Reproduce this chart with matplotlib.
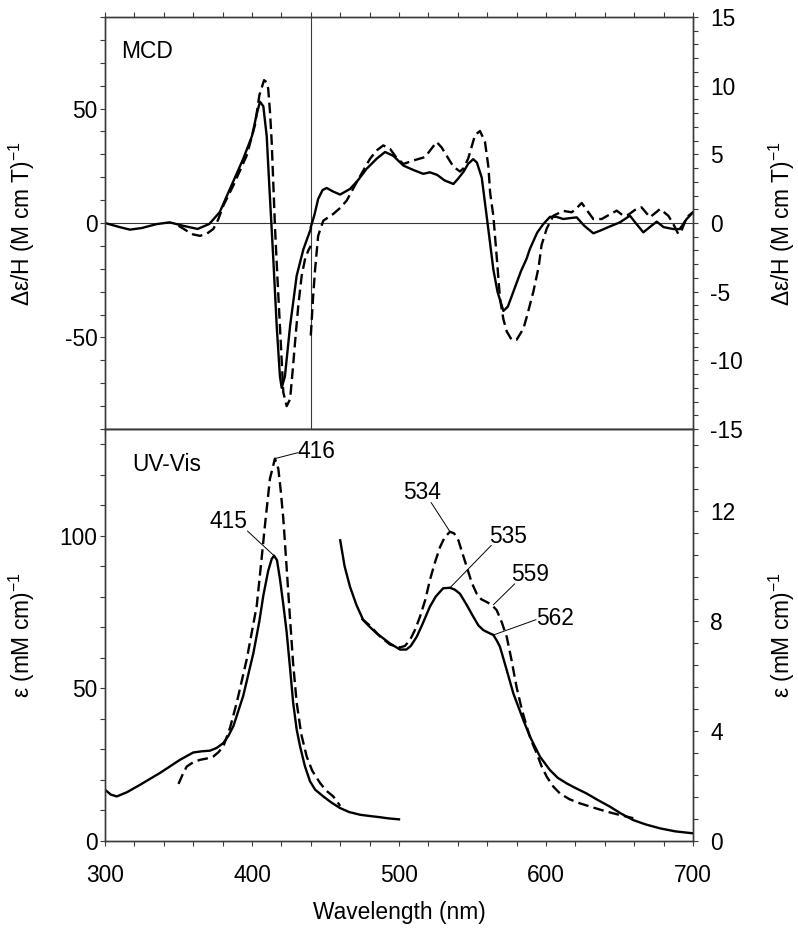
import numpy as np
import matplotlib
matplotlib.use("Agg")
import matplotlib.pyplot as plt
from matplotlib.ticker import MultipleLocator

plt.rcParams["font.family"] = ["Liberation Sans", "DejaVu Sans"]
plt.rcParams["mathtext.fontset"] = "custom"
plt.rcParams["mathtext.rm"] = "Liberation Sans"
plt.rcParams["mathtext.it"] = "Liberation Sans:italic"
plt.rcParams["axes.unicode_minus"] = False
plt.rcParams["font.size"] = 16.4

# ---- MCD, solid trace: 300-440 nm on left axis, 440-700 nm on right axis
mcd_solid_nm_a = [300, 310, 317, 325, 335, 344, 353, 363, 371, 378, 387, 394, 400, 403,
                  405.4, 407.7, 410, 412, 414.5, 416.8, 419, 420.2, 422.4, 425.9, 430.4,
                  435, 440]
mcd_solid_a = [0, -1.8, -2.9, -2.2, -0.5, 0.3, -1.2, -2.6, -0.4, 4.7, 17.8, 28, 38, 47,
               53, 51, 38, 13.5, -15.8, -45, -67, -72, -67, -45, -23, -11.4, -2.5]
mcd_solid_nm_b = [440, 442.5, 445, 448, 450.8, 455, 459.9, 466.7, 472, 478, 485, 490.5,
                  496, 503, 510, 516.5, 521, 526, 531, 537, 540, 543.7, 547, 550.5, 553,
                  556.3, 559.6, 562, 564.2, 567, 571, 574, 577.8, 583, 586.8, 589, 594,
                  598, 602.7, 607, 611.8, 616, 620.9, 626, 632.2, 637, 643.5, 650.3,
                  657.1, 661, 666.2, 670, 675.3, 680, 686.6, 691, 695.7, 700]
mcd_solid_b = [-0.3, 0.6, 1.75, 2.4, 2.55, 2.3, 2.07, 2.48, 3.1, 3.95, 4.7, 5.17,
               4.9, 4.18, 3.85, 3.58, 3.69, 3.5, 3.1, 2.84, 3.2, 3.7, 4.3, 4.65, 4.4,
               3.3, 0.53, -1.5, -3.4, -5.0, -6.4, -6.1, -5.0, -3.5, -2.6, -1.9, -0.7,
               -0.1, 0.45, 0.45, 0.29, 0.35, 0.41, -0.2, -0.75, -0.55, -0.25, 0.05,
               0.53, 0.0, -0.68, -0.35, 0.1, -0.3, -0.44, -0.44, 0.29, 0.78]

# ---- MCD, dashed trace
mcd_dash_nm_a = [350, 355.6, 360, 364.6, 369, 373.7, 377, 380.5, 387.3, 396.4, 402, 405,
                 408.2, 410, 411, 412.3, 413.4, 415.6, 417.3, 419, 421.3, 423.6, 425.9,
                 427.6, 429.3, 431.5, 433.8, 436, 438.3, 440]
mcd_dash_a = [-1.2, -3.4, -5.0, -5.6, -4.8, -2.6, 1.5, 7.6, 16.4, 29.5, 42.7, 55.8,
              62.4, 61.5, 58.8, 48, 35.4, -1.2, -24, -45, -74, -80, -77,
              -65, -52, -36, -23, -16, -12, -10]
mcd_dash_nm_b = [440, 441.5, 442.9, 445, 448.5, 455.3, 460, 464.4, 471.2, 480.3, 485,
                 489.3, 493.9, 498, 503, 509.7, 517.7, 522, 525.6, 529, 532.4, 537,
                 541.5, 544, 547.1, 551.7, 555.1, 558.5, 560.8, 562, 564.2, 566.5,
                 568.7, 571, 573.3, 576.6, 580, 584.6, 587, 591.4, 595, 597, 600.5,
                 605, 611.8, 617.5, 621, 624.3, 628, 632.2, 637.9, 643, 648.1, 652.6,
                 656, 660.5, 665, 670.7, 674, 677.6, 683.2, 686.6, 690, 692, 695.7, 700]
mcd_dash_b = [-8.2, -5.5, -3.4, -0.93, 0.17, 0.66, 1.1, 1.63, 2.97, 4.68, 5.3,
              5.65, 5.4, 4.8, 4.3, 4.55, 4.8, 5.4, 5.9, 5.5, 4.9, 4.1,
              3.75, 4.0, 4.7, 6.4, 6.7, 5.9, 4.1, 2.2, 0.5, -2.5,
              -5.5, -7.0, -7.9, -8.5, -8.5, -7.7, -6.8, -5.0, -3.2, -1.6, -0.4,
              0.53, 0.88, 0.78, 1.1, 1.46, 0.9, 0.29, 0.29, 0.6, 0.9, 0.53,
              0.6, 0.95, 1.14, 0.42, 0.7, 1.02, 0.53, -0.07, -0.8, -0.6, 0.42, 0.78]

# ---- UV-Vis, solid trace: 300-500 nm on left axis, 460-700 nm on right axis
uv_solid_nm_a = [300, 304, 308, 315, 323.8, 337.4, 351, 360, 366, 371.4, 376, 380.5,
                 384, 387.3, 394, 401, 405, 407.7, 411, 413.4, 415, 417, 419, 421.3,
                 423.6, 426, 428, 430.4, 432.7, 436, 439.5, 443, 448.5, 454, 459.9,
                 466, 473.5, 480, 487, 493, 500]
uv_solid_a = [16.8, 15.2, 14.6, 16, 18.4, 22.3, 26.6, 29, 29.4, 29.6, 30.5, 32.1,
              34.5, 37.6, 47.5, 61.7, 72, 80.4, 88.5, 92.4, 93.5, 92, 85.9, 77.5,
              68.3, 56, 45.3, 36.5, 31, 24.5, 19.5, 16.8, 14.6, 12.6, 10.8,
              9.5, 8.6, 8.2, 7.8, 7.4, 7.1]
uv_solid_nm_b = [460, 463, 466.7, 471, 475.7, 480, 484.8, 490, 493.9, 500.7, 505, 508,
                 512, 516, 521, 525, 530, 534.7, 538, 541.5, 546, 550.5, 554, 557.3,
                 561, 564.2, 566.5, 568.7, 573.3, 577.8, 584.6, 589.1, 595.9, 602.7,
                 608, 614, 620, 627.6, 635, 643.5, 651, 659.4, 668, 677.6, 688, 700]
uv_solid_b = [10.95, 10.0, 9.25, 8.6, 8.04, 7.8, 7.56, 7.35, 7.19, 6.97, 6.97, 7.1,
              7.43, 7.9, 8.53, 8.9, 9.2, 9.22, 9.15, 9.0, 8.6, 8.17, 7.85, 7.68,
              7.58, 7.5, 7.3, 7.07, 6.22, 5.37, 4.4, 3.8, 3.07, 2.58,
              2.3, 2.1, 1.93, 1.73, 1.5, 1.25, 1.0, 0.76, 0.6, 0.46, 0.35, 0.28]

# ---- UV-Vis, dashed trace
uv_dash_nm_a = [350, 353, 355.6, 360, 364.6, 369, 373.7, 377, 380.5, 385, 389.6, 396.4,
                403.2, 406, 408.8, 412.2, 415.6, 417.9, 419.5, 421.3, 423.5, 425.9,
                428, 430.4, 433.5, 437.2, 441, 446.3, 450.5, 455.3, 460]
uv_dash_a = [18.7, 22, 24.4, 25.8, 26.6, 27, 27.7, 29, 31, 37, 45.3, 59.5,
             77, 90, 103.4, 118.7, 125.3, 122, 115, 105.6, 90, 72.7,
             58, 45.3, 35, 27.7, 23, 19, 16.5, 14.6, 11.5]
uv_dash_nm_b = [474.6, 480, 487, 494, 500.7, 504, 507.5, 511, 514.3, 518, 521, 524.5,
                527.9, 531, 534.7, 537.5, 540.4, 543, 546.1, 549.5, 552.9, 556, 559.7,
                563, 566.5, 570, 573.3, 576.5, 580, 583.5, 586.9, 590, 593.7, 597,
                600.5, 605, 609.5, 616, 623.1, 632, 641.3, 650, 659.4]
uv_dash_b = [8.1, 7.85, 7.45, 7.15, 7.05, 7.1, 7.32, 7.7, 8.17, 8.8, 9.5, 10.15,
             10.7, 11.05, 11.26, 11.2, 10.95, 10.5, 9.98, 9.4, 9.0, 8.8, 8.7,
             8.6, 8.4, 7.95, 7.43, 6.6, 5.6, 4.8, 4.16, 3.65, 3.19, 2.72,
             2.34, 1.98, 1.73, 1.52, 1.37, 1.22, 1.07, 0.95, 0.83]

# band labels: (text, axis side, peak nm, peak value, label nm, label value, line anchor)
peak_labels = [
    ("416", "left", 415.6, 125.3, 444.0, 127.6, (0.0, 0.45)),
    ("415", "left", 415.0, 93.5, 384.0, 104.6, (1.0, 0.1)),
    ("534", "right", 534.7, 11.26, 515.4, 12.7, (0.75, 0.05)),
    ("535", "right", 534.7, 9.22, 574.4, 11.1, (0.05, 0.1)),
    ("559", "right", 564.2, 8.6, 589.1, 9.7, (0.1, 0.1)),
    ("562", "right", 564.2, 7.5, 606.1, 8.1, (0.0, 0.45)),
]

INK = "black"
SPINE = "#3a3a3a"
LW = 1.7
DASH = (0, (4.5, 2.2))

fig = plt.figure(figsize=(7.98, 9.31), dpi=100)
left, width = 105 / 798, 588 / 798
ax_top = fig.add_axes([left, 1 - 429 / 931, width, 412 / 931])
ax_bot = fig.add_axes([left, 1 - 841 / 931, width, 412 / 931], sharex=ax_top)
ax_top_r = ax_top.twinx()
ax_bot_r = ax_bot.twinx()

# MCD panel
ax_top.plot(mcd_solid_nm_a, mcd_solid_a, color=INK, lw=LW)
ax_top.plot(mcd_dash_nm_a, mcd_dash_a, color=INK, lw=LW, linestyle=DASH)
ax_top_r.plot(mcd_solid_nm_b, mcd_solid_b, color=INK, lw=LW)
ax_top_r.plot(mcd_dash_nm_b, mcd_dash_b, color=INK, lw=LW, linestyle=DASH)
ax_top.axhline(0, color=SPINE, lw=0.8, zorder=0)
ax_top.axvline(440, color=SPINE, lw=0.8, zorder=0)
ax_top.set_ylim(-90, 90)
ax_top_r.set_ylim(-15, 15)
ax_top.yaxis.set_major_locator(MultipleLocator(50))
ax_top.yaxis.set_minor_locator(MultipleLocator(10))
ax_top_r.yaxis.set_major_locator(MultipleLocator(5))
ax_top_r.yaxis.set_minor_locator(MultipleLocator(1))
ax_top.text(0.027, 0.917, "MCD", transform=ax_top.transAxes, ha="left", va="center")

# UV-Vis panel
ax_bot.plot(uv_solid_nm_a, uv_solid_a, color=INK, lw=LW)
ax_bot.plot(uv_dash_nm_a, uv_dash_a, color=INK, lw=LW, linestyle=DASH)
ax_bot_r.plot(uv_solid_nm_b, uv_solid_b, color=INK, lw=LW)
ax_bot_r.plot(uv_dash_nm_b, uv_dash_b, color=INK, lw=LW, linestyle=DASH)
ax_bot.set_ylim(0, 135)
ax_bot_r.set_ylim(0, 15)
ax_bot.yaxis.set_major_locator(MultipleLocator(50))
ax_bot.yaxis.set_minor_locator(MultipleLocator(10))
ax_bot_r.yaxis.set_major_locator(MultipleLocator(4))
ax_bot_r.yaxis.set_minor_locator(MultipleLocator(0.8))
ax_bot.text(0.046, 0.913, "UV-Vis", transform=ax_bot.transAxes, ha="left", va="center")

for txt, side, px, py, tx, ty, anchor in peak_labels:
    ax = ax_bot if side == "left" else ax_bot_r
    ax.annotate(txt, xy=(px, py), xytext=(tx, ty), ha="center", va="center",
                arrowprops=dict(arrowstyle="-", lw=0.7, color=INK, relpos=anchor,
                                shrinkA=0, shrinkB=0, patchA=None))

ax_top.set_xlim(300, 700)
ax_top.xaxis.set_major_locator(MultipleLocator(100))
ax_top.xaxis.set_minor_locator(MultipleLocator(20))

for ax in (ax_top, ax_bot, ax_top_r, ax_bot_r):
    for sp in ax.spines.values():
        sp.set_color(SPINE)
        sp.set_linewidth(1.0)
    ax.tick_params(which="both", direction="out", length=3.4, width=0.8, color=SPINE)

ax_top.tick_params(axis="x", which="both", top=True, bottom=True, labelbottom=False)
ax_bot.tick_params(axis="x", which="both", top=False, bottom=True, pad=13)
ax_top.tick_params(axis="y", which="both", pad=2)
ax_bot.tick_params(axis="y", which="both", pad=2)
ax_top_r.tick_params(axis="y", which="both", pad=9)
ax_bot_r.tick_params(axis="y", which="both", pad=9)

ax_bot.set_xlabel("Wavelength (nm)", labelpad=10)
ylab_mcd = "\u0394\u03b5/H (M cm T)$^{-1}$"
ylab_uv = "\u03b5 (mM cm)$^{-1}$"
ax_top.set_ylabel(ylab_mcd)
ax_top_r.set_ylabel(ylab_mcd)
ax_bot.set_ylabel(ylab_uv)
ax_bot_r.set_ylabel(ylab_uv)
ax_top.yaxis.set_label_coords(-0.116, 0.5)
ax_bot.yaxis.set_label_coords(-0.116, 0.5)
ax_top_r.yaxis.set_label_coords(1.125, 0.5)
ax_bot_r.yaxis.set_label_coords(1.125, 0.5)

fig.savefig("out.png", dpi=100)
